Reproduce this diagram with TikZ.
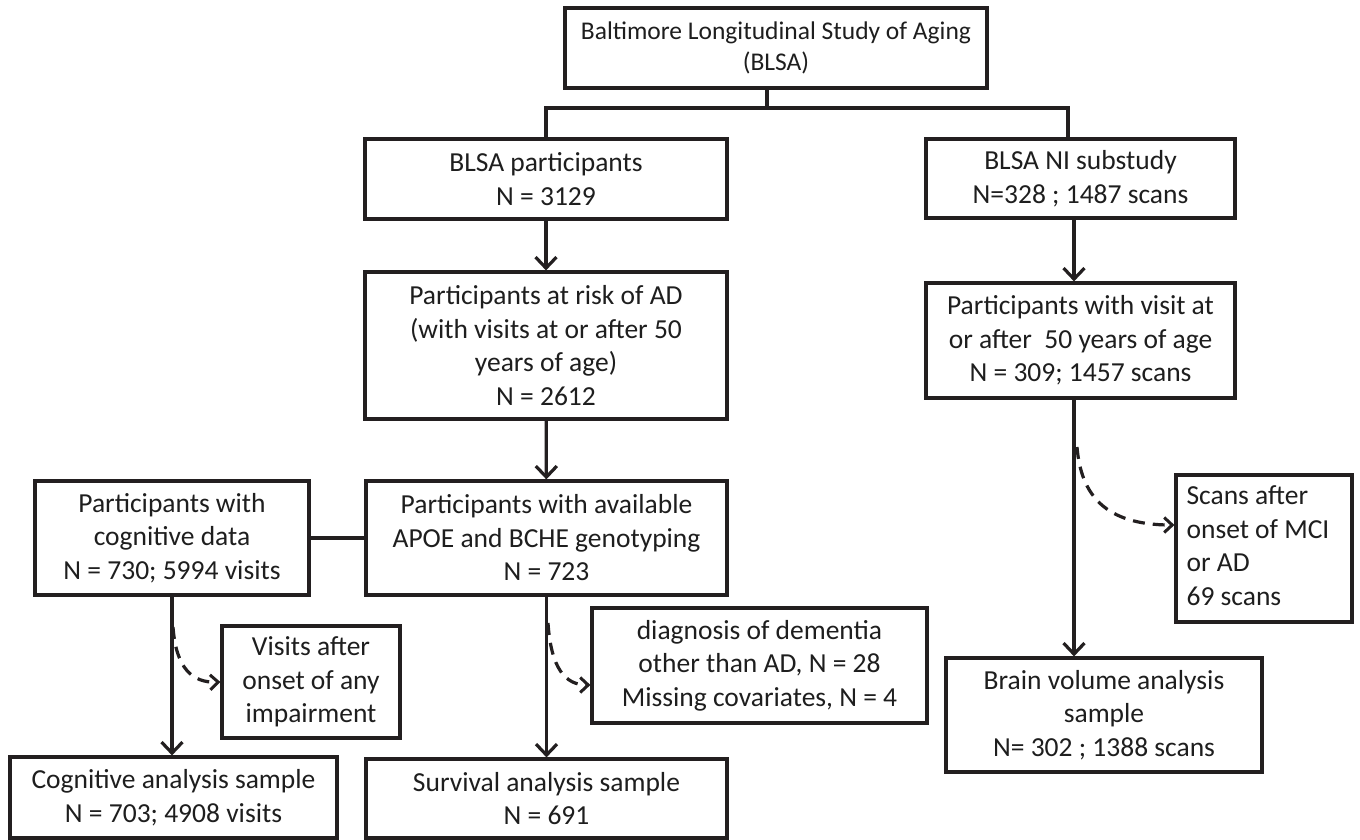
\documentclass[tikz,border=0pt]{standalone}
\usepackage{fontspec}
\setmainfont{Carlito}
\usetikzlibrary{arrows.meta,calc}
\definecolor{linec}{HTML}{231F20}
\definecolor{textc}{HTML}{1E1E1E}
\begin{document}
\begin{tikzpicture}[x=1pt,y=-1pt,
  box/.style={draw=linec, line width=3.2pt, align=center, inner sep=0pt,
    font=\fontsize{27.5}{33.5}\selectfont, text=textc},
  link/.style={draw=linec, line width=3.2pt},
  arr/.style={link, -{Straight Barb[length=11pt,width=21pt,line width=3.2pt]}},
  darr/.style={link, dash pattern=on 12pt off 8pt, -{Straight Barb[length=8pt,width=15pt,line width=3pt]}}
]
\useasboundingbox (0,0) rectangle (1360,840);
\fill[white] (0,0) rectangle (1360,840);

\node[box, font=\fontsize{25.5}{31}\selectfont, minimum width=422pt, minimum height=80pt] (top) at (776,48) {Baltimore Longitudinal Study of Aging\\(BLSA)};
\node[box, minimum width=362pt, minimum height=80pt] (blsa) at (546,179) {BLSA participants\\N = 3129};
\node[box, minimum width=362pt, minimum height=147pt] (risk) at (546,345.5) {Participants at risk of AD\\(with visits at or after 50\\years of age)\\N = 2612};
\node[box, minimum width=361pt, minimum height=114pt] (apoe) at (546.5,538) {Participants with available\\APOE and BCHE genotyping\\N = 723};
\node[box, minimum width=274pt, minimum height=114pt] (cog) at (172,538) {Participants with\\cognitive data\\N = 730; 5994 visits};
\node[box, minimum width=327pt, minimum height=81pt] (cogan) at (173.5,797.5) {Cognitive analysis sample\\N = 703; 4908 visits};
\node[box, minimum width=178pt, minimum height=112pt] (visits) at (311,682) {Visits after\\onset of any\\impairment};
\node[box, minimum width=361pt, minimum height=79pt] (surv) at (546.5,798.5) {Survival analysis sample\\N = 691};
\node[box, minimum width=335pt, minimum height=115pt] (diag) at (759.5,665.5) {diagnosis of dementia\\other than AD, N = 28\\Missing covariates, N = 4};
\node[box, minimum width=309pt, minimum height=79pt] (ni) at (1080.5,178.5) {BLSA NI substudy\\N=328 ; 1487 scans};
\node[box, minimum width=309pt, minimum height=115pt] (nivisit) at (1080.5,340.5) {Participants with visit at\\or after\ \ 50 years of age\\N = 309; 1457 scans};
\node[box, minimum width=176pt, minimum height=147pt] (scans) at (1264,548.5) {\renewcommand\arraystretch{1}\begin{tabular}{@{}l@{\hspace{12pt}}}Scans after\\onset of MCI\\or AD\\69 scans\end{tabular}};
\node[box, minimum width=316pt, minimum height=114pt] (brain) at (1104,715) {Brain volume analysis\\sample\\N= 302 ; 1388 scans};

\coordinate (j) at (767,108);
\coordinate (jr) at (1068,108);
\coordinate (xr) at (1074,0);
\draw[link] (top.south -| j) -- (j);
\draw[link] (blsa.north) |- (jr) -- (jr |- ni.north);

\draw[arr] (blsa) -- (risk);
\draw[arr] (risk) -- (apoe);
\draw[link] (cog.east) -- (apoe.west);
\draw[arr] (cog.south) -- (cog.south |- cogan.north);
\draw[arr] (apoe.south) -- (surv.north);
\draw[arr] (ni.south -| xr) -- (nivisit.north -| xr);
\draw[arr] (nivisit.south -| xr) -- (brain.north -| xr);

\coordinate (d1) at (173,627);
\coordinate (d2) at (548,623);
\coordinate (d3) at (1077,447);
\draw[darr] (d1) .. controls (176,668) and (192,683) .. (visits.west);
\draw[darr] (d2) .. controls (551,668) and (565,685) .. ($(diag.west)+(0,19.5)$);
\draw[darr] (d3) .. controls (1081,495) and (1105,525) .. ($(scans.west)+(0,-23.5)$);
\end{tikzpicture}
\end{document}
